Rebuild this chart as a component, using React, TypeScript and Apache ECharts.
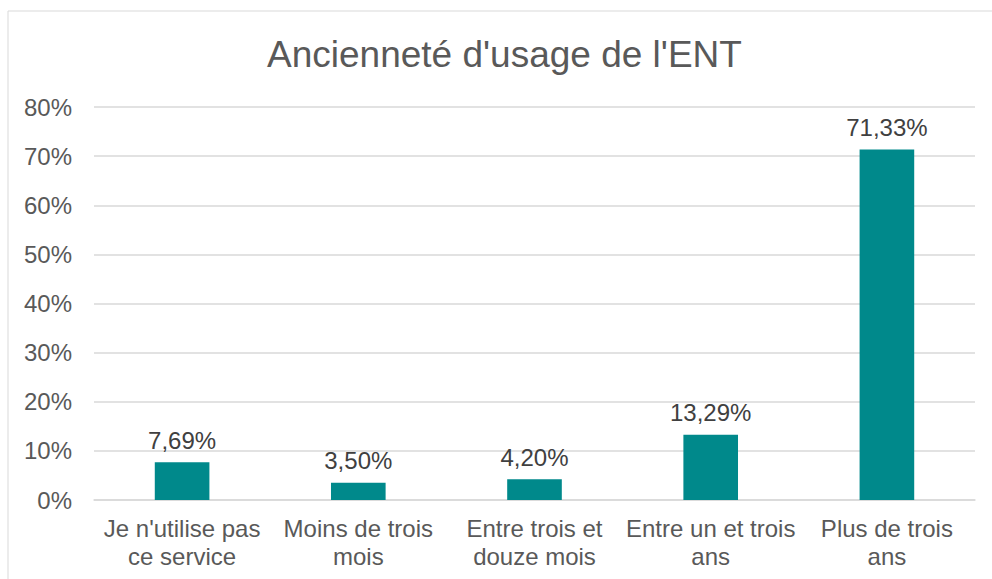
import React, { useEffect, useRef } from "react";
import * as echarts from "echarts";

const title = "Ancienneté d'usage de l'ENT";
const categories = [
  "Je n'utilise pas\nce service",
  "Moins de trois\nmois",
  "Entre trois et\ndouze mois",
  "Entre un et trois\nans",
  "Plus de trois\nans",
];
const values = [7.69, 3.5, 4.2, 13.29, 71.33];
const yMin = 0;
const yMax = 80;
const yStep = 10;

export default function App() {
  const ref = useRef<HTMLDivElement>(null);
  useEffect(() => {
    if (!ref.current) return;
    const chart = echarts.init(ref.current, null, { renderer: "svg" });
    const font = "'Liberation Sans', Arial, sans-serif";
    chart.setOption({
      animation: false,
      backgroundColor: "#ffffff",
      textStyle: { fontFamily: font },
      title: {
        text: title,
        left: 262,
        top: 31,
        textStyle: { fontFamily: font, fontSize: 37, fontWeight: "normal", color: "#595959" },
      },
      graphic: [
        {
          type: "rect",
          shape: { x: 8, y: 11, width: 1000, height: 600 },
          style: { fill: "none", stroke: "#d9d9d9", lineWidth: 1 },
          silent: true,
          z: -1,
        },
      ],
      grid: { left: 94, right: 17, top: 107, bottom: 79, containLabel: false },
      xAxis: {
        type: "category",
        data: categories,
        axisLine: { show: true, lineStyle: { color: "#d9d9d9", width: 1.5 } },
        axisTick: { show: false },
        axisLabel: {
          color: "#595959",
          fontSize: 24,
          fontFamily: font,
          lineHeight: 28,
          margin: 14,
          interval: 0,
        },
      },
      yAxis: {
        type: "value",
        min: yMin,
        max: yMax,
        interval: yStep,
        axisLine: { show: false },
        axisTick: { show: false },
        splitLine: { lineStyle: { color: "#d9d9d9", width: 1.5 } },
        axisLabel: {
          color: "#595959",
          fontSize: 24,
          fontFamily: font,
          margin: 22,
          formatter: (v: number) => `${v}%`,
        },
      },
      series: [
        {
          type: "bar",
          data: values,
          barWidth: "31%",
          itemStyle: { color: "#00898B" },
          label: {
            show: true,
            position: "top",
            distance: 10,
            color: "#404040",
            fontSize: 24,
            fontFamily: font,
            formatter: (p: any) => `${p.value.toFixed(2).replace(".", ",")}%`,
          },
        },
      ],
    });
    return () => chart.dispose();
  }, []);
  return (
    <div
      ref={ref}
      style={{ position: "fixed", left: 0, top: 0, width: 992, height: 579, background: "#fff" }}
    />
  );
}
